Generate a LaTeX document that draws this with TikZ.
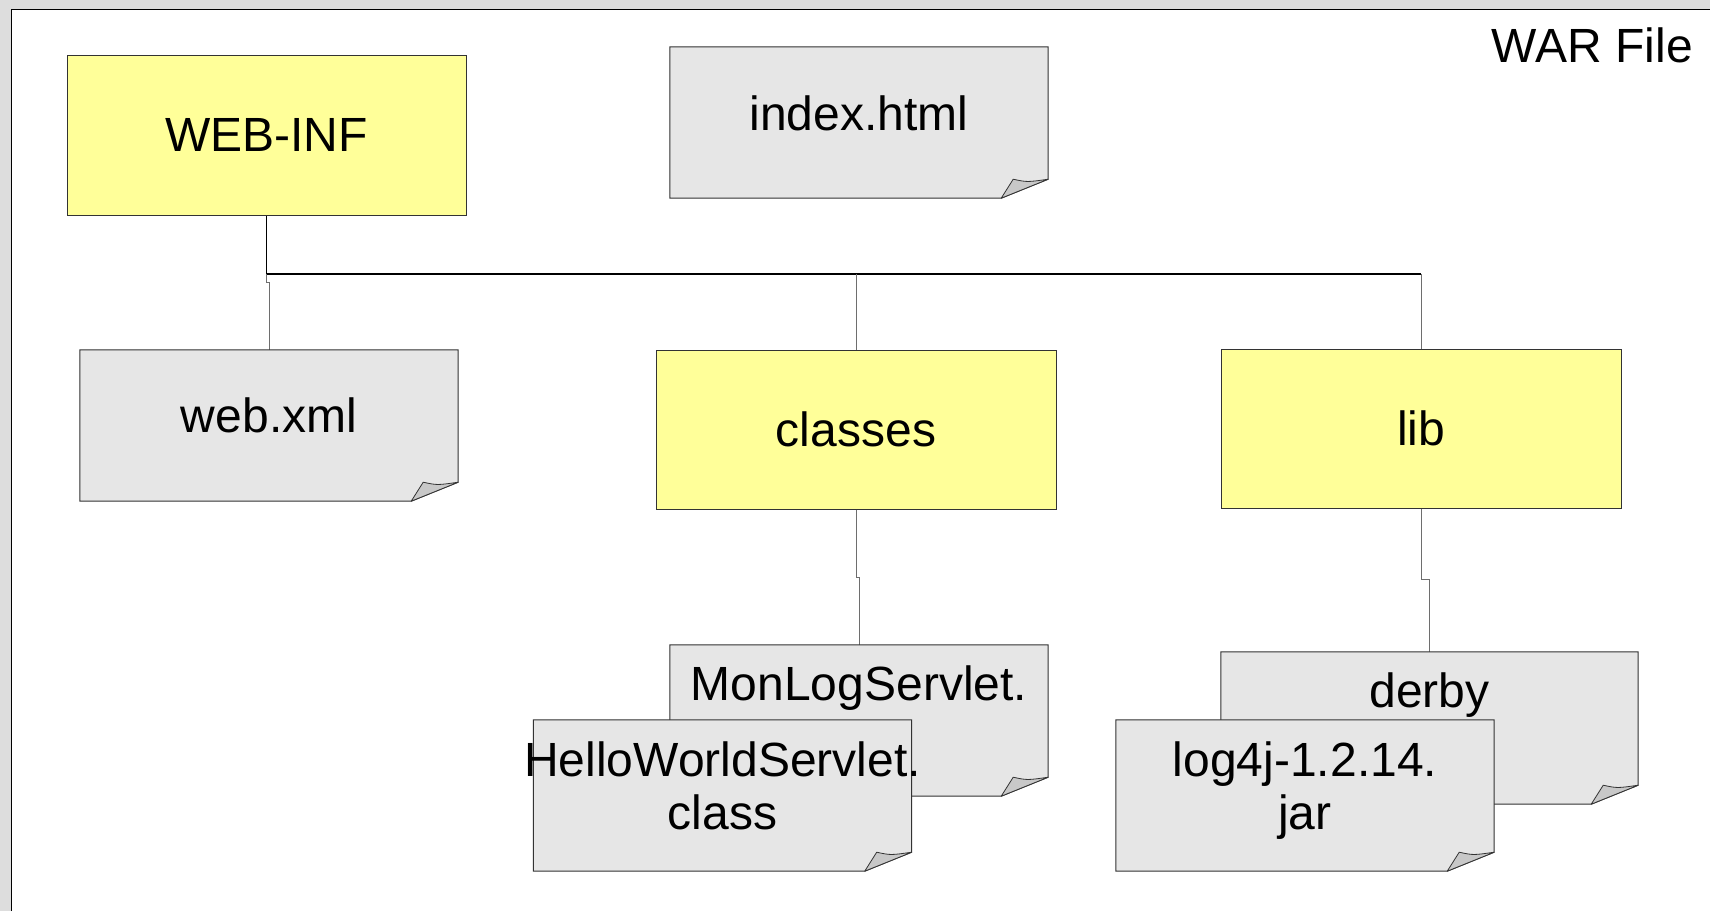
\documentclass[tikz,border=0pt]{standalone}
\usepackage{fontspec}
\setmainfont{Liberation Sans}
\usetikzlibrary{calc}

\definecolor{pagegray}{HTML}{DDDDDD}
\definecolor{folderyellow}{HTML}{FFFF99}
\definecolor{notegray}{HTML}{E6E6E6}
\definecolor{foldgray}{HTML}{C8C8C8}
\definecolor{edgegray}{HTML}{333333}
\definecolor{wiregray}{HTML}{6E6E6E}

\newcommand\diagramfont{\fontsize{48}{53}\selectfont}
% strut that fixes the height of a first text line
\newcommand\firstline{\rule{0pt}{40pt}}

\tikzset{
  folder/.style={draw=edgegray, fill=folderyellow, line width=1pt,
    minimum width=400pt, minimum height=159pt, inner sep=0pt, font=\diagramfont},
  notearea/.style={rectangle, inner sep=0pt, minimum width=378pt, minimum height=151pt},
  noteedge/.style={draw=edgegray, fill=notegray, line width=1pt, line join=miter},
  curl/.style={draw=edgegray, fill=foldgray, line width=0.8pt, line join=round},
  notetext/.style={font=\diagramfont, inner sep=0pt, align=center},
  trunk/.style={draw=black, line width=1.5pt},
  branch/.style={draw=wiregray, line width=1pt},
}

% outline of a sheet with a curled bottom-right corner
\newcommand\drawnote[1]{%
  \path[noteedge] (#1.north west) -- (#1.north east) -- ([yshift=19pt]#1.south east)
    -- ([xshift=-47pt]#1.south east) -- (#1.south west) -- cycle;
  \path[curl] ([xshift=-47pt]#1.south east) -- ([xshift=-35pt,yshift=19pt]#1.south east)
    .. controls ([xshift=-21pt,yshift=16pt]#1.south east) .. ([yshift=19pt]#1.south east) -- cycle;
}

\begin{document}
\begin{tikzpicture}[x=1pt,y=-1pt]
\useasboundingbox (0,0) rectangle (1710,911);
\fill[pagegray] (0,0) rectangle (1710,911);
\fill[white] (11.5,9.5) rectangle (1710,911);
\draw[black, line width=1.2pt] (11.5,911) -- (11.5,9.5) -- (1710,9.5);

\node[font=\diagramfont, anchor=base east, inner sep=0pt] (title) at (1693,62) {WAR File};

% folders
\node[folder, minimum width=399pt, minimum height=160pt] (webinf) at (266.5,135) {WEB-INF};
\node[folder] (classes) at (856,429.5) {classes};
\node[folder] (lib) at (1421,428.5) {lib};

% connectors
\coordinate (bus) at (266.5,274);
\draw[trunk] (webinf.south) -- (bus) -- (lib.north |- bus);
\draw[branch] (bus) -- ++(0,8) -| (269,350) coordinate (webxmltop);
\draw[branch] (classes.north |- bus) -- (classes.north);
\draw[branch] (lib.north |- bus) -- (lib.north);

% files
\node[notearea] (index) at (859,122.5) {};
\drawnote{index}
\node[notetext, anchor=base] (indextext) at ($(index.north)+(0,84)$) {index.html};

\node[notearea] (webxml) at (269,425.5) {};
\drawnote{webxml}
\node[notetext, anchor=base] (webxmltext) at ($(webxml.north)+(0,83)$) {web.xml};

\node[notearea] (mon) at (859,720.5) {};
\draw[branch] (classes.south) -- ++(0,68) -| (mon.north);
\drawnote{mon}
\node[notetext, anchor=base] (montext) at ($(mon.north)+(0,56)$) {MonLogServlet.};

\node[notearea] (hello) at (722.5,795.5) {};
\drawnote{hello}
\node[notetext, anchor=north] (hellotext) at ($(hello.north)+(0,16)$) {\firstline HelloWorldServlet.\\class};

\node[notearea, minimum width=417pt, minimum height=152pt] (derby) at (1429.5,728) {};
\draw[branch] (lib.south) -- ++(0,71) -| (derby.north);
\drawnote{derby}
\node[notetext, anchor=base] (derbytext) at ($(derby.north)+(0,56)$) {derby};

\node[notearea] (log4j) at (1305,795.5) {};
\drawnote{log4j}
\node[notetext, anchor=north] (log4jtext) at ($(log4j.north)+(0,16)$) {\firstline log4j-1.2.14.\\jar};
\end{tikzpicture}
\end{document}
